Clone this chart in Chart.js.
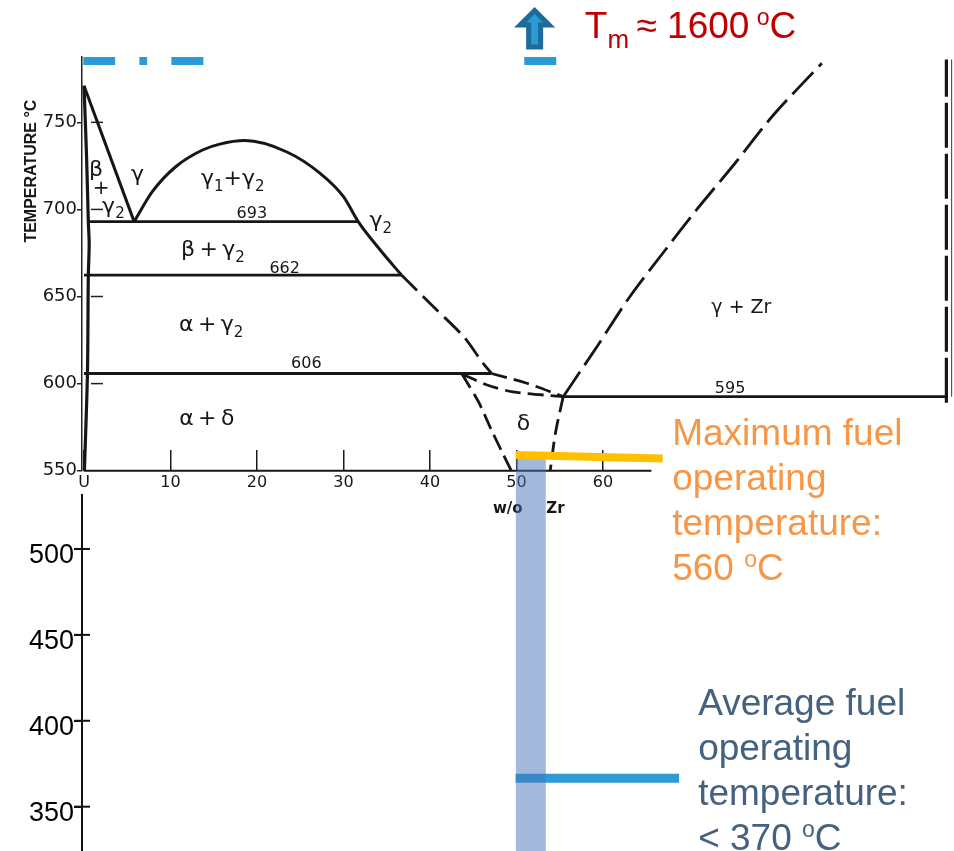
<!DOCTYPE html>
<html><head><meta charset="utf-8">
<script src="https://cdn.jsdelivr.net/npm/chart.js@4.4.1/dist/chart.umd.min.js"></script>
<style>html,body{margin:0;padding:0;background:#fff;overflow:hidden;}</style>
</head><body><canvas id="c" width="954" height="851" style="display:block"></canvas>
<script>
// ---------- axis ticks ----------
const xTicks = [0, 10, 20, 30, 40, 50, 60];
const xTickLabels = ['U', '10', '20', '30', '40', '50', '60'];
const yUpperTicks = [550, 600, 650, 700, 750];
const yLowerTicks = [350, 400, 450, 500];
const X_MIN = -0.23, X_MAX = 100.58;

// ---------- phase boundaries: [w/o Zr, °C] ----------
const solvusU = [[0, 771], [0.3, 730], [0.5, 693], [0.6, 680], [0.5, 662], [0.4, 606], [0.05, 550]];
const betaGammaBoundary = [[0, 771], [5.8, 693]];
const miscibilityGap = [[5.8, 693], [7.9, 710.2], [10.6, 724.5], [13.7, 734.1], [15.7, 737.5], [18.6, 739.5], [23.4, 733.1], [27.3, 720.7], [30, 707.3], [31.7, 693], [34.2, 677], [36.7, 662.3]];
const gamma2DeltaBoundary = [[36.7, 662.3], [40.4, 644.1], [43.9, 626.9], [46, 612.6], [47.1, 605.9]];
const iso693 = [[0.5, 693], [31.7, 693]];
const iso662 = [[0, 662.3], [36.7, 662.3]];
const iso606 = [[0, 605.8], [47.1, 605.8]];
const iso595 = [[55.4, 592.5], [99.7, 592.5]];
const lensUpper = [[47.1, 605.8], [51.2, 600.2], [55.4, 592.5]];
const lensLower = [[43.7, 605.5], [46.6, 599.2], [49.6, 595.3], [55.4, 592.5]];
const deltaLeft = [[43.7, 605.5], [45.6, 589.6], [47.1, 573.4], [48.5, 559], [49.4, 550]];
const deltaRight = [[55.4, 592.5], [54.5, 571.5], [53.9, 550]];
const gammaZrBoundary = [[55.4, 592.5], [59.3, 621.2], [63.1, 649.9], [67.2, 676.7], [70.8, 699.7], [75.1, 725.5], [79.7, 754.2], [85.3, 783.9]];
const zrEdge = [[99.7, 589], [99.7, 786]];
const zrEdgeThin = [[100.3, 592.5], [100.3, 786]];
const axisBase = [[0, 550], [65.6, 550]];

// ---------- overlay annotations ----------
const fuelBandX = [49.9, 53.4];
const fuelBandTop = 560;
const maxFuelLine = [[49.9, 559], [66.9, 557]];
const avgFuelLine = [[49.9, 366.5], [68.8, 366.5]];
const topDashT = 785.2;
const topDashes = [[-0.08, 3.6], [6.4, 7.3], [10.1, 13.8], [50.9, 54.6]];

const ink = '#161616';
function pts(a) { return a.map(p => ({x: p[0], y: p[1]})); }
function line(d, o) {
  return Object.assign({data: pts(d), showLine: true, pointRadius: 0, borderColor: ink, borderWidth: 2.8,
    xAxisID: 'x', yAxisID: 'yU', fill: false, tension: 0, order: 5, borderCapStyle: 'butt'}, o || {});
}
const DASH = [16, 7];

const datasets = [
  line(axisBase, {borderWidth: 2}),
  line(solvusU, {borderWidth: 3.2, tension: 0.3}),
  line(betaGammaBoundary, {borderWidth: 3}),
  line(miscibilityGap, {borderWidth: 3, cubicInterpolationMode: 'monotone'}),
  line(gamma2DeltaBoundary, {borderDash: [22, 8], tension: 0.3}),
  line(iso693), line(iso662), line(iso606), line(iso595),
  line(lensUpper, {borderDash: DASH, tension: 0.3}),
  line(lensLower, {borderDash: DASH, tension: 0.3}),
  line(deltaLeft, {borderDash: DASH, tension: 0.3}),
  line(deltaRight, {borderDash: DASH, tension: 0.3}),
  line(gammaZrBoundary, {borderDash: [30, 8], tension: 0.3}),
  line(zrEdge, {borderDash: [45, 6], borderWidth: 3.2}),
  line(zrEdgeThin, {borderWidth: 1.2, borderColor: '#555'}),
  // inner tick dashes of the upper temperature scale
  {data: yUpperTicks.slice(1).map(v => ({x: 1.5, y: v})), showLine: false, pointStyle: 'line', pointRadius: 6,
   pointBorderWidth: 1.5, pointBorderColor: '#222', xAxisID: 'x', yAxisID: 'yU', order: 5},
  // crossing tick marks of the lower temperature scale
  {data: yLowerTicks.map(v => ({x: X_MIN, y: v})), showLine: false, pointStyle: 'line', pointRadius: 8,
   pointBorderWidth: 2, pointBorderColor: '#111', xAxisID: 'x', yAxisID: 'yL', order: 5, clip: false},
  ...topDashes.map(s => line([[s[0], topDashT], [s[1], topDashT]], {borderColor: '#2A9BD6', borderWidth: 8, order: 0, clip: 10})),
  line(avgFuelLine, {yAxisID: 'yL', borderColor: '#2E9BD6', borderWidth: 9, order: 3}),
  {data: pts([[fuelBandX[0], fuelBandTop], [fuelBandX[1], fuelBandTop]]), showLine: true, pointRadius: 0, borderWidth: 0,
   backgroundColor: 'rgba(72,116,186,0.5)', fill: {value: 0}, xAxisID: 'x', yAxisID: 'yU', order: 2},
  line(maxFuelLine, {borderColor: '#FFC000', borderWidth: 8, order: 1})
];

function fitLeft(s) { s.width = 82; s.paddingTop = 0; s.paddingBottom = 0; s.paddingLeft = 0; s.paddingRight = 0; }

function rich(ctx, x, y, segs, align) {
  let w = 0;
  segs.forEach(s => { ctx.font = s[1]; w += ctx.measureText(s[0]).width; });
  let cx = align === 'left' ? x : x - w / 2;
  segs.forEach(s => { ctx.font = s[1]; ctx.fillText(s[0], cx, y + (s[2] || 0)); cx += ctx.measureText(s[0]).width; });
}

const G = '22px "DejaVu Sans"', S = '15px "DejaVu Sans"', N = '16px "DejaVu Sans"';
const TS = '\u2009+\u2009';
const phaseLabels = [
  [1.39, 719.2, [['β', G]]],
  [1.97, 708.8, [['+', '20px "DejaVu Sans"']]],
  [3.4, 697.9, [['γ', G], ['2', S, 5]]],
  [6.2, 716.3, [['γ', G]]],
  [17.2, 714, [['γ', G], ['1', S, 6], ['+', G], ['γ', G], ['2', S, 6]]],
  [19.4, 695, [['693', N]]],
  [34.3, 689.8, [['γ', G], ['2', S, 6]]],
  [14.9, 673.3, [['β', G], [TS, G], ['γ', G], ['2', S, 6]]],
  [23.2, 663.5, [['662', N]]],
  [14.7, 630.2, [['α', G], [TS, G], ['γ', G], ['2', S, 6]]],
  [25.7, 609, [['606', N]]],
  [14.2, 576.2, [['α', G], [TS, G], ['δ', G]]],
  [50.8, 573.4, [['δ', G]]],
  [76, 640.5, [['γ + Zr', '19px "DejaVu Sans"']]],
  [74.7, 594.6, [['595', N]]]
];

const F = '37px "Liberation Sans"', FS = '23px "Liberation Sans"', FM = '26px "Liberation Sans"';

const annot = {
  id: 'annot',
  beforeDatasetsDraw(chart) {
    const ctx = chart.ctx, xs = chart.scales.x, yU = chart.scales.yU;
    ctx.save();
    ctx.fillStyle = ink; ctx.textBaseline = 'alphabetic'; ctx.textAlign = 'left';
    phaseLabels.forEach(l => rich(ctx, xs.getPixelForValue(l[0]), yU.getPixelForValue(l[1]), l[2], 'center'));
    // x-axis title
    const ty = yU.getPixelForValue(550) + 42;
    rich(ctx, xs.getPixelForValue(49.0), ty, [['w/o', 'bold 15px "DejaVu Sans"']], 'center');
    rich(ctx, xs.getPixelForValue(54.5), ty, [['Zr', 'bold 15px "DejaVu Sans"']], 'center');
    // y-axis title
    ctx.translate(yU.left + 36, yU.getPixelForValue(722));
    ctx.rotate(-Math.PI / 2);
    rich(ctx, 0, 0, [['TEMPERATURE °C', 'bold 16px "Liberation Sans"']], 'center');
    ctx.restore();
  },
  afterDraw(chart) {
    const ctx = chart.ctx, xs = chart.scales.x, yU = chart.scales.yU, yL = chart.scales.yL;
    ctx.save();
    ctx.textBaseline = 'alphabetic'; ctx.textAlign = 'left';
    // arrow pointing up towards the melting point
    const ax = xs.getPixelForValue(52.1), tip = yU.getPixelForValue(815.6), neck = yU.getPixelForValue(805.9), base = yU.getPixelForValue(793.2);
    ctx.beginPath();
    ctx.moveTo(ax - 6, base); ctx.lineTo(ax - 6, neck); ctx.lineTo(ax - 14.5, neck); ctx.lineTo(ax, tip + 2.5);
    ctx.lineTo(ax + 14.5, neck); ctx.lineTo(ax + 6, neck); ctx.lineTo(ax + 6, base); ctx.closePath();
    ctx.fillStyle = '#2A9BD6'; ctx.fill();
    ctx.lineWidth = 5; ctx.strokeStyle = '#1E6A99'; ctx.lineJoin = 'miter'; ctx.stroke();
    // melting point text
    ctx.fillStyle = '#C00000';
    rich(ctx, xs.getPixelForValue(57.9), yU.getPixelForValue(798.4),
      [['T', F], ['m', FM, 10], ['\u2009≈ 1600\u2009', F], ['o', FS, -13], ['C', F]], 'left');
    // maximum fuel temperature text
    ctx.fillStyle = '#F79646';
    const mx = xs.getPixelForValue(68.0), my = yU.getPixelForValue(564.75);
    rich(ctx, mx, my, [['Maximum fuel', F]], 'left');
    rich(ctx, mx, my + 45, [['operating', F]], 'left');
    rich(ctx, mx, my + 90, [['temperature:', F]], 'left');
    rich(ctx, mx, my + 135, [['560 ', F], ['o', FS, -13], ['C', F]], 'left');
    // average fuel temperature text
    ctx.fillStyle = '#44617F';
    const vx = xs.getPixelForValue(71.0), vy = yL.getPixelForValue(403.4);
    rich(ctx, vx, vy, [['Average fuel', F]], 'left');
    rich(ctx, vx, vy + 45, [['operating', F]], 'left');
    rich(ctx, vx, vy + 90, [['temperature:', F]], 'left');
    rich(ctx, vx, vy + 135, [['< 370 ', F], ['o', FS, -13], ['C', F]], 'left');
    ctx.restore();
  }
};

new Chart(document.getElementById('c'), {
  type: 'scatter',
  data: {datasets},
  options: {
    responsive: false, animation: false, events: [],
    layout: {autoPadding: false, padding: {top: 57, left: 0, right: 0, bottom: 0}},
    plugins: {legend: {display: false}, tooltip: {enabled: false}},
    scales: {
      x: {
        type: 'linear', min: X_MIN, max: X_MAX, position: {yU: 550},
        border: {display: false},
        grid: {display: true, drawOnChartArea: false, drawTicks: true, tickLength: -21, color: '#1a1a1a', lineWidth: 1.5},
        ticks: {padding: 24, color: ink, font: {family: 'DejaVu Sans', size: 16}, maxRotation: 0, autoSkip: false,
          callback: v => { const i = xTicks.indexOf(v); return i < 0 ? '' : xTickLabels[i]; }},
        afterBuildTicks: s => { s.ticks = xTicks.map(v => ({value: v})); },
        afterFit: s => { s.paddingLeft = 0; s.paddingRight = 0; }
      },
      yU: {
        type: 'linear', position: 'left', stack: 'temp', stackWeight: 413.7, weight: 3, min: 550, max: 787.5, clip: false,
        border: {display: true, color: '#222', width: 1.5},
        grid: {drawOnChartArea: false, tickLength: 5, color: '#222', lineWidth: 1.5},
        ticks: {padding: 0, color: ink, font: {family: 'DejaVu Sans', size: 18}},
        afterBuildTicks: s => { s.ticks = yUpperTicks.map(v => ({value: v})); },
        afterFit: fitLeft
      },
      yGap: {
        type: 'linear', position: 'left', stack: 'temp', stackWeight: 24.3, weight: 2, min: 0, max: 1, clip: false,
        border: {display: false}, grid: {display: false}, ticks: {display: false},
        afterFit: fitLeft
      },
      yL: {
        type: 'linear', position: 'left', stack: 'temp', stackWeight: 356, weight: 1, min: 324.2, max: 531.4, clip: false,
        border: {display: true, color: '#111', width: 2},
        grid: {drawOnChartArea: false, tickLength: 8, color: '#111', lineWidth: 2},
        ticks: {padding: 0, labelOffset: 7, color: '#000', font: {family: 'Liberation Sans', size: 27}},
        afterBuildTicks: s => { s.ticks = yLowerTicks.map(v => ({value: v})); },
        afterFit: fitLeft
      }
    }
  },
  plugins: [annot]
});
</script>
</body></html>
